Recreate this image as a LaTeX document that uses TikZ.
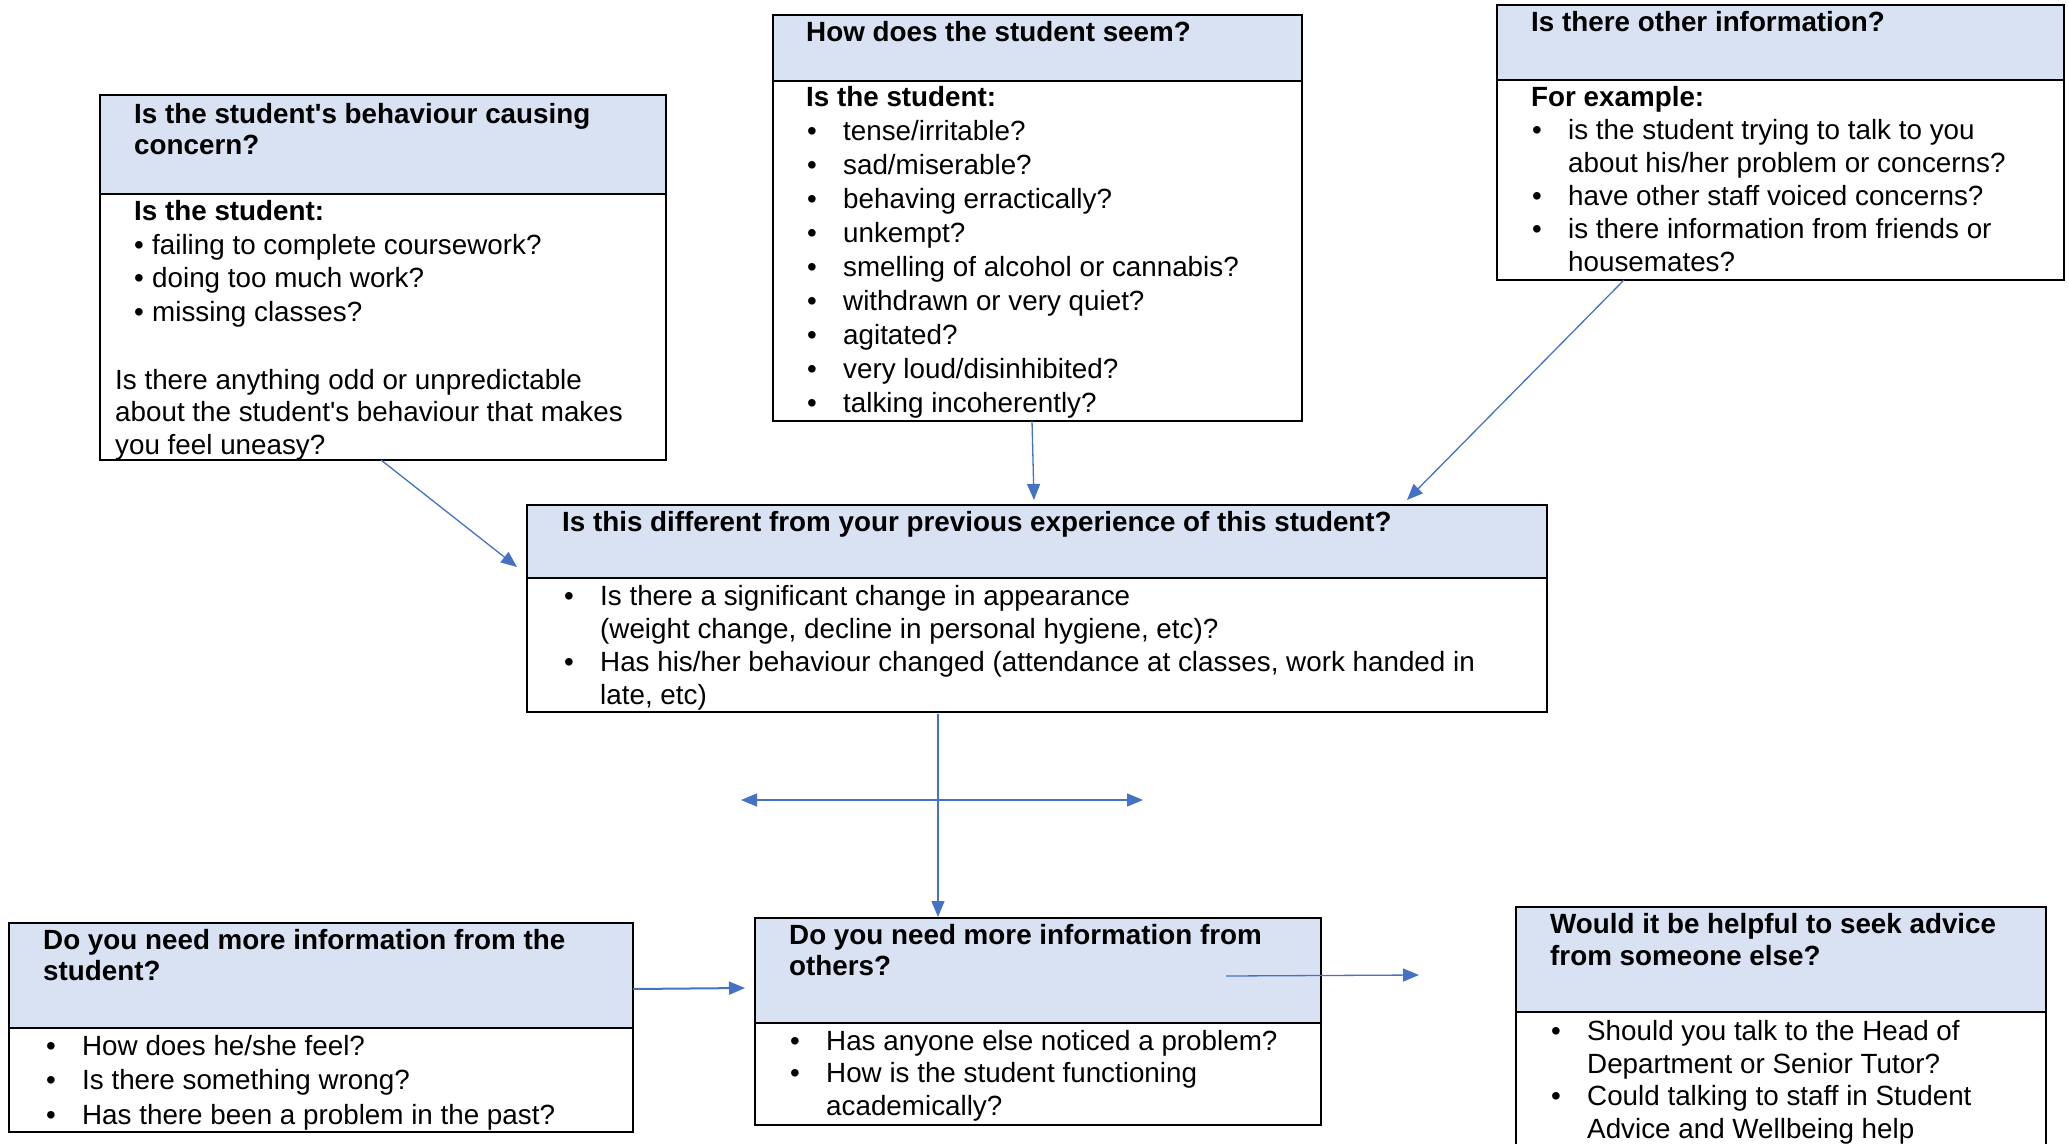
\documentclass[tikz,border=0pt]{standalone}
\usepackage{fontspec}
\setmainfont{Liberation Sans}
\usetikzlibrary{arrows.meta,calc,positioning}
\definecolor{headblue}{HTML}{D9E2F3}
\definecolor{linkblue}{HTML}{4472C4}
\newcommand{\bl}[1]{\makebox[37pt][l]{\hspace{1pt}\textbullet}#1}
\newcommand{\cl}{\hspace*{37pt}}
\newcommand{\rows}[1]{\begin{tabular}[t]{@{}l@{}}#1\end{tabular}}

\begin{document}
\begin{tikzpicture}[x=1pt,y=-1pt,>={Triangle[length=16pt,width=13pt]}]
        \tikzstyle{question}=[rectangle,draw=black,line width=2pt,fill=headblue,anchor=north west,inner sep=0pt,outer sep=0pt]
        \tikzstyle{answers}=[rectangle,draw=black,line width=2pt,fill=white,anchor=north west,inner sep=0pt,outer sep=0pt]
        \tikzstyle{words}=[anchor=base west,inner sep=0pt,font=\fontsize{27.8}{33.5}\selectfont]
        \tikzstyle{heading}=[words,font=\fontsize{27.8}{31.5}\selectfont\bfseries]
        \tikzstyle{link}=[draw=linkblue,line width=1.3pt,->]
        \useasboundingbox (0,0) rectangle (2069,1143);
        \clip (0,0) rectangle (2069,1143);
        % behaviour
        \node [question,minimum width=566pt,minimum height=99pt] (q1) at (100,95) {};
        \node [answers,minimum width=566pt,minimum height=266pt] (a1) at (q1.south west) {};
        \node [heading] (q1t) at (134,123) {\rows{Is the student\textquotesingle s behaviour causing\\concern?}};
        \node [words] (a1t) at (134,220.7) {\rows{\textbf{Is the student:}\\\makebox[18pt][l]{\textbullet}failing to complete coursework?\\\makebox[18pt][l]{\textbullet}doing too much work?\\\makebox[18pt][l]{\textbullet}missing classes?}};
        \node [words,font=\fontsize{27.8}{32.5}\selectfont] (a1p) at (115,389) {\rows{Is there anything odd or unpredictable\\about the student\textquotesingle s behaviour that makes\\you feel uneasy?}};
        % how does the student seem
        \node [question,minimum width=529pt,minimum height=66pt] (q2) at (773,15) {};
        \node [answers,minimum width=529pt,minimum height=340pt] (a2) at (q2.south west) {};
        \node [heading] (q2t) at (806,41.7) {How does the student seem?};
        \node [words,font=\fontsize{27.8}{34}\selectfont] (a2t) at (806,106.7) {\rows{\textbf{Is the student:}\\\bl{tense/irritable?}\\\bl{sad/miserable?}\\\bl{behaving erractically?}\\\bl{unkempt?}\\\bl{smelling of alcohol or cannabis?}\\\bl{withdrawn or very quiet?}\\\bl{agitated?}\\\bl{very loud/disinhibited?}\\\bl{talking incoherently?}}};
        % other information
        \node [question,minimum width=567pt,minimum height=75pt] (q3) at (1497,5) {};
        \node [answers,minimum width=567pt,minimum height=200pt] (a3) at (q3.south west) {};
        \node [heading] (q3t) at (1531,31.7) {Is there other information?};
        \node [words,font=\fontsize{27.8}{33.1}\selectfont] (a3t) at (1531,106) {\rows{\textbf{For example:}\\\bl{is the student trying to talk to you}\\\cl about his/her problem or concerns?\\\bl{have other staff voiced concerns?}\\\bl{is there information from friends or}\\\cl housemates?}};
        % different from before
        \node [question,minimum width=1020pt,minimum height=73pt] (q4) at (527,505) {};
        \node [answers,minimum width=1020pt,minimum height=134pt] (a4) at (q4.south west) {};
        \node [heading] (q4t) at (562,531.7) {Is this different from your previous experience of this student?};
        \node [words,font=\fontsize{27.8}{33}\selectfont] (a4t) at (563,605) {\rows{\bl{Is there a significant change in appearance}\\\cl(weight change, decline in personal hygiene, etc)?\\\bl{Has his/her behaviour changed (attendance at classes, work handed in}\\\cl late, etc)}};
        % from the student
        \node [question,minimum width=624pt,minimum height=105pt] (q5) at (9,923) {};
        \node [answers,minimum width=624pt,minimum height=104pt] (a5) at (q5.south west) {};
        \node [heading] (q5t) at (43,949) {\rows{Do you need more information from the\\student?}};
        \node [words,font=\fontsize{27.8}{34.5}\selectfont] (a5t) at (45,1055) {\rows{\bl{How does he/she feel?}\\\bl{Is there something wrong?}\\\bl{Has there been a problem in the past?}}};
        % from others
        \node [question,minimum width=566pt,minimum height=105pt] (q6) at (755,918) {};
        \node [answers,minimum width=566pt,minimum height=102pt] (a6) at (q6.south west) {};
        \node [heading] (q6t) at (789,944) {\rows{Do you need more information from\\others?}};
        \node [words,font=\fontsize{27.8}{32.2}\selectfont] (a6t) at (789,1050.7) {\rows{\bl{Has anyone else noticed a problem?}\\\bl{How is the student functioning}\\\cl academically?}};
        % advice
        \node [question,minimum width=530pt,minimum height=105pt] (q7) at (1516,907) {};
        \node [answers,minimum width=530pt,minimum height=180pt] (a7) at (q7.south west) {};
        \node [heading,font=\fontsize{27.8}{32}\selectfont\bfseries] (q7t) at (1550,933) {\rows{Would it be helpful to seek advice\\from someone else?}};
        \node [words,font=\fontsize{27.8}{32.5}\selectfont] (a7t) at (1550,1040.7) {\rows{\bl{Should you talk to the Head of}\\\cl Department or Senior Tutor?\\\bl{Could talking to staff in Student}\\\cl Advice and Wellbeing help}};
        % connectors
        \coordinate (l1) at (741,800);
        \coordinate (r1) at (1143,800);
        \path[link] ($(a1.south)+(-2,0)$) -- ($(q4.west)+(-10,25.5)$);
        \path[link] ($(a2.south)+(-5.5,0)$) -- ($(q4.north)+(-3,-5)$);
        \path[link] ($(a3.south)+(-156.5,0)$) -- ($(q4.north)+(370,-5)$);
        \path[link] ($(a4.south)+(-99,2)$) -- ($(q6.north)+(-100,-1)$);
        \path[link,<->] (l1) -- (r1);
        \path[link,line width=2pt] ($(q5.east)+(0,13.5)$) -- ($(q6.west)+(-10,17.5)$);
        \path[link] ($(q6.center)+(188,5.5)$) -- ($(q7.west)+(-97,15.5)$);
\end{tikzpicture}
\end{document}
